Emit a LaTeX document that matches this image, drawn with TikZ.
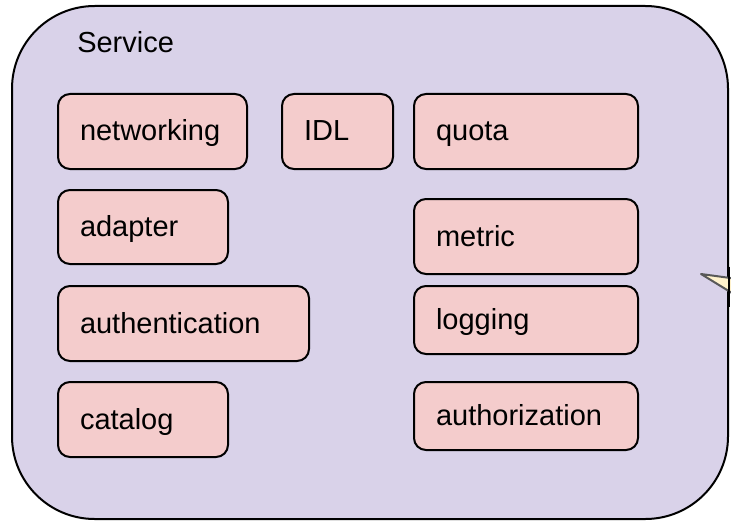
\documentclass[tikz,border=0pt]{standalone}
\usepackage{fontspec}
\setmainfont{Liberation Sans}
\usepackage{tikz}

\definecolor{svcfill}{HTML}{D9D2E9}
\definecolor{partfill}{HTML}{F4CCCC}
\definecolor{tailfill}{HTML}{FFF2CC}
\definecolor{tailline}{HTML}{595959}

\tikzset{
  svcbox/.style={draw, fill=svcfill, line width=1.5pt, rounded corners=62pt,
    anchor=north west, inner sep=0pt},
  part/.style={draw, fill=partfill, line width=1.5pt, rounded corners=9pt,
    anchor=north west, inner xsep=16.5pt, inner ysep=0pt, align=left,
    text height=15pt, text depth=0.75pt,
    minimum height=56.25pt, font=\fontsize{21.75pt}{26pt}\selectfont}
}

\begin{document}
\begin{tikzpicture}[x=0.75pt, y=-0.75pt]
\useasboundingbox (0,0) rectangle (731,524);

\node[svcbox, minimum width=537pt, minimum height=384.75pt] (service) at (11,5) {};
\node[anchor=base west, inner sep=0pt, font=\fontsize{21.75pt}{26pt}\selectfont] (title) at (77,53) {Service};

\node[part, text width=108.75pt] (networking) at (57,93) {networking};
\node[part, text width=50.25pt] (idl) at (281,93) {IDL};
\node[part, text width=135pt] (quota) at (413,93) {quota};
\node[part, text width=94.5pt, minimum height=55.5pt] (adapter) at (57,189) {adapter};
\node[part, text width=135pt] (metric) at (413,198) {metric};
\node[part, text width=155.25pt] (authentication) at (57,285) {authentication};
\node[part, text width=135pt, minimum height=51pt] (logging) at (413,285) {logging};
\node[part, text width=94.5pt] (catalog) at (57,381) {catalog};
\node[part, text width=135pt, minimum height=51pt] (authorization) at (413,381) {authorization};

\coordinate (tip) at (701,274);
\draw[tailline, fill=tailfill, line width=1.5pt, line join=round] (745,280) -- (tip) -- (745,301);
\draw[line width=1.5pt] ([yshift=-3pt]service.east) -- ([yshift=-33pt]service.east);
\end{tikzpicture}
\end{document}
